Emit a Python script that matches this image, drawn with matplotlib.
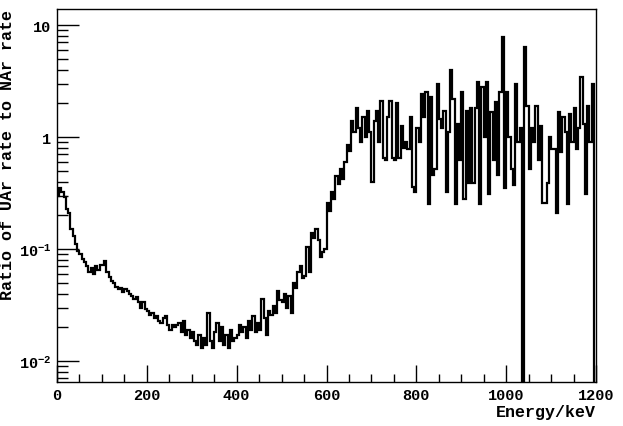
import numpy as np
import matplotlib
matplotlib.use("Agg")
import matplotlib.pyplot as plt
from matplotlib.ticker import FixedLocator, FixedFormatter, MultipleLocator

# ── Ratio histogram, 5 keV bins from 0 to 1200 keV ─────────────────────────
BIN_WIDTH = 5
ratio_0_100 = [0.30, 0.35, 0.32, 0.29, 0.23, 0.21, 0.15, 0.13, 0.11, 0.096,
               0.090, 0.082, 0.076, 0.070, 0.062, 0.068, 0.060, 0.071, 0.065, 0.072]
ratio_100_200 = [0.072, 0.078, 0.062, 0.056, 0.052, 0.050, 0.046, 0.044, 0.045, 0.041,
                 0.044, 0.042, 0.040, 0.038, 0.036, 0.037, 0.034, 0.030, 0.034, 0.029]
ratio_200_300 = [0.028, 0.026, 0.027, 0.024, 0.025, 0.023, 0.022, 0.024, 0.025, 0.021,
                 0.019, 0.021, 0.020, 0.021, 0.022, 0.018, 0.023, 0.017, 0.019, 0.016]
ratio_300_400 = [0.018, 0.015, 0.014, 0.017, 0.013, 0.016, 0.014, 0.027, 0.015, 0.013,
                 0.018, 0.022, 0.015, 0.020, 0.014, 0.017, 0.013, 0.019, 0.015, 0.016]
ratio_400_500 = [0.017, 0.021, 0.018, 0.020, 0.016, 0.023, 0.019, 0.025, 0.018, 0.022,
                 0.019, 0.036, 0.024, 0.017, 0.028, 0.026, 0.031, 0.027, 0.042, 0.035]
ratio_500_600 = [0.034, 0.040, 0.030, 0.038, 0.027, 0.050, 0.045, 0.062, 0.071, 0.055,
                 0.058, 0.105, 0.062, 0.14, 0.125, 0.15, 0.12, 0.085, 0.095, 0.10]
ratio_600_700 = [0.26, 0.22, 0.32, 0.28, 0.45, 0.38, 0.52, 0.42, 0.60, 0.85,
                 0.75, 1.4, 1.1, 1.8, 1.2, 0.9, 1.5, 1.0, 1.7, 1.1]
ratio_700_800 = [0.40, 1.4, 1.7, 0.9, 2.1, 0.65, 0.63, 1.5, 2.1, 0.65,
                 0.63, 2.0, 0.65, 1.25, 0.8, 0.9, 0.78, 1.5, 0.36, 0.32]
ratio_800_900 = [1.2, 0.9, 2.4, 1.5, 2.5, 0.25, 2.3, 0.46, 0.52, 3.0,
                 1.45, 1.2, 1.7, 0.32, 1.1, 4.0, 2.2, 0.25, 1.3, 0.63]
ratio_900_1000 = [2.5, 0.28, 1.7, 0.39, 1.8, 0.39, 1.8, 3.1, 0.25, 2.8,
                  1.0, 3.1, 0.31, 1.67, 0.63, 2.05, 0.46, 2.5, 7.8, 0.35]
ratio_1000_1100 = [2.5, 1.0, 0.52, 0.37, 3.0, 0.9, 1.2, 0.0, 6.3, 1.9,
                   0.52, 1.2, 0.9, 1.9, 0.63, 1.26, 0.26, 0.26, 0.39, 1.0]
ratio_1100_1200 = [0.78, 0.78, 0.21, 1.67, 0.73, 1.5, 1.1, 0.25, 1.6, 0.9,
                   1.8, 0.78, 1.2, 3.4, 1.3, 0.31, 1.9, 0.9, 3.0, 0.0]

ratio = np.array(ratio_0_100 + ratio_100_200 + ratio_200_300 + ratio_300_400
                 + ratio_400_500 + ratio_500_600 + ratio_600_700 + ratio_700_800
                 + ratio_800_900 + ratio_900_1000 + ratio_1000_1100 + ratio_1100_1200)
edges = np.arange(len(ratio) + 1) * BIN_WIDTH

y_ticks = [0.01, 0.1, 1, 10]
y_labels = [r"$\mathbf{10^{-2}}$", r"$\mathbf{10^{-1}}$", "1", "10"]

plt.rcParams.update({
    "font.family": "Liberation Mono", "font.weight": "bold",
    "mathtext.fontset": "custom", "mathtext.rm": "Liberation Mono",
    "mathtext.bf": "Liberation Mono:bold",
})

fig = plt.figure(figsize=(6.23, 4.27), dpi=100)
ax = fig.add_axes([57 / 623, 44 / 427, 539 / 623, 373 / 427])

# zero bins drop to the bottom of the frame, like ROOT does on a log axis
draw = np.where(ratio > 0, ratio, 1e-6)
ax.stairs(draw, edges, color="black", linewidth=1.6, baseline=None)

ax.set_yscale("log")
ax.set_xlim(0, 1200)
ax.set_ylim(0.0065, 13.9)

ax.xaxis.set_major_locator(MultipleLocator(200))
ax.xaxis.set_minor_locator(MultipleLocator(50))
ax.yaxis.set_major_locator(FixedLocator(y_ticks))
ax.yaxis.set_major_formatter(FixedFormatter(y_labels))
ax.tick_params(which="both", direction="in", top=False, right=False, width=1)
ax.tick_params(which="major", length=12, labelsize=11, pad=4)
ax.tick_params(axis="y", which="major", length=16)
ax.tick_params(which="minor", length=6)
ax.tick_params(axis="y", which="minor", length=8, labelleft=False)
for s in ax.spines.values():
    s.set_linewidth(1)

ax.set_xlabel("Energy/keV", fontsize=12, fontweight="bold", loc="right", labelpad=2)
ax.set_ylabel("Ratio of UAr rate to NAr rate", fontsize=12, fontweight="bold",
              loc="top")
ax.yaxis.set_label_coords(-0.077, 1.0)

fig.savefig("out.png", dpi=100)
